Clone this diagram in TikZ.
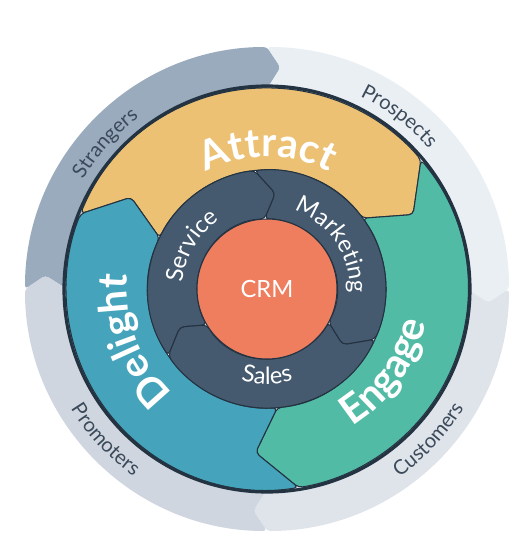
\documentclass[tikz,border=0pt]{standalone}
\usepackage{fontspec}
\setmainfont{Lato}
\usetikzlibrary{decorations.text,positioning}

\definecolor{strangers}{HTML}{9AABBE}
\definecolor{prospects}{HTML}{EAEFF4}
\definecolor{customers}{HTML}{DFE3EA}
\definecolor{promoters}{HTML}{CFD6E0}
\definecolor{attract}{HTML}{ECC174}
\definecolor{engage}{HTML}{52BBA5}
\definecolor{delight}{HTML}{45A4BB}
\definecolor{ring}{HTML}{45596F}
\definecolor{crm}{HTML}{EF7E5F}
\definecolor{edge}{HTML}{243342}
\definecolor{ink}{HTML}{3B4A5A}

\tikzset{stage/.style={fill=#1,draw=edge,line width=0.6pt,rounded corners=2.5pt},
    team/.style={fill=ring,draw=edge,line width=0.6pt,rounded corners=2.5pt},
    arcword/.style={decorate,decoration={text along path,text align=center,text={#1}}},
    bigword/.style={arcword={|\fontsize{23}{26}\selectfont\bfseries\color{white}|#1}},
    teamword/.style={arcword={|\fontsize{13.5}{16}\selectfont\color{white}|#1}},
    outerword/.style={arcword={|\fontsize{11.5}{14}\selectfont\color{ink}|#1}}}

\begin{document}
\begin{tikzpicture}[x=0.2mm,y=0.2mm]

\useasboundingbox (-267,-271) rectangle (263,289);

% outer band

\foreach \s/\e/\col in {180/90/strangers,90/0/prospects,0/-90/customers,-90/-180/promoters}
    \fill [\col,rounded corners=2pt] (\s:242) arc[start angle=\s,end angle=\e,radius=242]
        -- (\e-3.5:222) -- (\e:200) arc[start angle=\e,end angle=\s,radius=200]
        -- (\s-3.5:222) -- cycle;

% stages

\path [stage=attract] (158:201) arc[start angle=158,end angle=40,radius=201]
    -- (27:164) -- (36.5:119) arc[start angle=36.5,end angle=154.5,radius=119]
    -- (146:164) -- cycle;
\path [stage=engage] (40:201) arc[start angle=40,end angle=-81,radius=201]
    -- (-94:164) -- (-85:119) arc[start angle=-85,end angle=36.5,radius=119]
    -- (27:164) -- cycle;
\path [stage=delight] (-81:201) arc[start angle=-81,end angle=-202,radius=201]
    -- (-214:164) -- (-205.5:119) arc[start angle=-205.5,end angle=-85,radius=119]
    -- (-94:164) -- cycle;

\draw [edge,line width=1.8pt] (0,0) circle[radius=203];

% teams

\path [team] (214:119) arc[start angle=214,end angle=96,radius=119]
    -- (85:96) -- (92:70) arc[start angle=92,end angle=210.8,radius=70]
    -- (203.6:95) -- cycle;
\path [team] (96:119) arc[start angle=96,end angle=-25,radius=119]
    -- (-36.4:94) -- (-28.4:70) arc[start angle=-28.4,end angle=92,radius=70]
    -- (85:96) -- cycle;
\path [team] (-25:119) arc[start angle=-25,end angle=-146,radius=119]
    -- (-156.4:95) -- (-149.2:70) arc[start angle=-149.2,end angle=-28.4,radius=70]
    -- (-36.4:94) -- cycle;

\node (crm) at (0,0) [circle,fill=crm,draw=edge,line width=0.6pt,minimum size=2.8cm,
    font=\fontsize{13.5}{16}\selectfont,text=white] {CRM};

% labels

\path [outerword=Strangers] (178:214) arc[start angle=178,end angle=98,radius=214];
\path [outerword=Prospects] (92.5:214) arc[start angle=92.5,end angle=12.5,radius=214];
\path [outerword=Promoters] (183:230) arc[start angle=183,end angle=263,radius=230];
\path [outerword=Customers] (277:230) arc[start angle=277,end angle=357,radius=230];

\path [bigword=Attract] (150:132) arc[start angle=150,end angle=30,radius=132];
\path [bigword=Delight] (261:140) arc[start angle=261,end angle=141,radius=140];
\path [bigword=Engage] (-95:162) arc[start angle=-95,end angle=25,radius=162];

\path [teamword=Service] (210:84) arc[start angle=210,end angle=90,radius=84];
\path [teamword=Marketing] (94:83) arc[start angle=94,end angle=-26,radius=83];
\path [teamword=Sales] (230:95) arc[start angle=230,end angle=310,radius=95];

\end{tikzpicture}
\end{document}
